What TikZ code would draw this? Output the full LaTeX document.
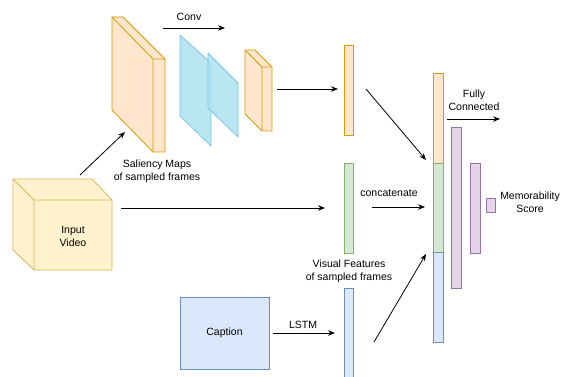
\documentclass[tikz,border=0pt]{standalone}
\usepackage{fontspec}
\setmainfont{Liberation Sans}
\usepackage{tikz}
\usetikzlibrary{arrows.meta, positioning}

\definecolor{orfill}{HTML}{FFE6CC}
\definecolor{ordraw}{HTML}{D79B00}
\definecolor{yefill}{HTML}{FFF2CC}
\definecolor{yedraw}{HTML}{D6B656}
\definecolor{blfill}{HTML}{DAE8FC}
\definecolor{bldraw}{HTML}{6C8EBF}
\definecolor{grfill}{HTML}{D5E8D4}
\definecolor{grdraw}{HTML}{82B366}
\definecolor{pufill}{HTML}{E1D5E7}
\definecolor{pudraw}{HTML}{9673A6}
\definecolor{cyfill}{HTML}{B1E3EE}
\definecolor{cydraw}{HTML}{7EC0F0}

\begin{document}
\begin{tikzpicture}[
    x=1pt, y=-1pt,
    bar/.style={
        rectangle, draw, line width=0.8pt, inner sep=0pt, minimum width=9pt
    },
    lbl/.style={
        font=\fontsize{10.5}{13}\selectfont, align=center, inner sep=0pt
    },
    arr/.style={line width=0.8pt, -{Stealth[length=7pt, width=5.5pt]}},
    cube/.style={line width=0.8pt, line join=round},
]
\useasboundingbox (0,0) rectangle (562,377);

% Input video cube (bottom-left)
\filldraw[cube, fill=yefill, draw=yedraw]
    (13,179) -- (92,179) -- (112,200) -- (112,270) -- (34,270) -- (13,250) -- cycle;
\draw[cube, draw=yedraw] (13,179) -- (34,200) -- (34,270) (34,200) -- (112,200);
\node[lbl] (video) at (73,236) {Input\\Video};

% Saliency maps (big orange block)
\filldraw[cube, fill=orfill, draw=ordraw]
    (112,17) -- (123,17) -- (165,59) -- (165,152) -- (153,152) -- (112,110) -- cycle;
\draw[cube, draw=ordraw] (112,17) -- (153,59) -- (153,152) (153,59) -- (165,59);
\node[lbl] (sallbl) at (157,171) {Saliency Maps\\of sampled frames};

% Conv planes
\filldraw[cube, fill=cyfill, draw=cydraw, fill opacity=0.9]
    (180,35) -- (211,63) -- (211,146) -- (180,116) -- cycle;
\filldraw[cube, fill=cyfill, draw=cydraw, fill opacity=0.9]
    (208,53) -- (238,83) -- (238,137) -- (208,108) -- cycle;
\node[lbl] (convlbl) at (189,17) {Conv};

% Small orange block
\filldraw[cube, fill=orfill, draw=ordraw]
    (245,50) -- (255,50) -- (272,67) -- (272,131) -- (262,131) -- (245,114) -- cycle;
\draw[cube, draw=ordraw] (245,50) -- (262,67) -- (262,131) (262,67) -- (272,67);

% Caption box
\node[draw=bldraw, fill=blfill, line width=0.8pt, minimum width=89pt,
      minimum height=72pt, font=\fontsize{10.5}{13}\selectfont] (caption) at (224.5,333) {Caption};

% Feature vectors
\node[bar, fill=orfill, draw=ordraw, minimum height=90pt] (salfeat) at (348.5,90) {};
\node[bar, fill=grfill, draw=grdraw, minimum height=90pt] (visfeat) at (348.5,208) {};
\node[bar, fill=blfill, draw=bldraw, minimum height=92pt] (capfeat) at (348.5,334) {};
\node[lbl] (vislbl) at (349,271) {Visual Features\\of sampled frames};

% Concatenated vector
\node[bar, fill=orfill, draw=ordraw, minimum width=10pt, minimum height=90pt] (catsal) at (438,118) {};
\node[bar, fill=grfill, draw=grdraw, minimum width=10pt, minimum height=89pt] (catvis) at (438,207.5) {};
\node[bar, fill=blfill, draw=bldraw, minimum width=10pt, minimum height=90pt] (catcap) at (438,297) {};
\node[lbl] (catlbl) at (389,193) {concatenate};

% Fully connected layers
\node[bar, fill=pufill, draw=pudraw, minimum width=10pt, minimum height=161pt] (fc1) at (456,207.5) {};
\node[bar, fill=pufill, draw=pudraw, minimum width=10pt, minimum height=90pt] (fc2) at (475,208) {};
\node[bar, fill=pufill, draw=pudraw, minimum height=14pt] (score) at (490.5,205) {};
\node[lbl] (fclbl) at (474,100) {Fully\\Connected};
\node[lbl] (scorelbl) at (530,202) {Memorability\\Score};
\node[lbl] (lstmlbl) at (303,325) {LSTM};

% Arrow end points
\coordinate (conv-s) at (163,28);
\coordinate (conv-e) at (225,28);
\coordinate (blk-s) at (277,89);
\coordinate (blk-e) at (338,89);
\coordinate (vid-s) at (80,175);
\coordinate (vid-e) at (125,132);
\coordinate (vis-s) at (121,208);
\coordinate (vis-e) at (325,208);
\coordinate (cat-s) at (372,207);
\coordinate (cat-e) at (425,207);
\coordinate (lstm-s) at (273,333);
\coordinate (lstm-e) at (335,333);
\coordinate (top-s) at (366,89);
\coordinate (top-e) at (426,160);
\coordinate (bot-s) at (374,342);
\coordinate (bot-e) at (426,254);
\coordinate (fc-s) at (447,119);
\coordinate (fc-e) at (500,119);

% Arrows
\draw[arr] (conv-s) -- (conv-e);
\draw[arr] (blk-s) -- (blk-e);
\draw[arr] (vid-s) -- (vid-e);
\draw[arr] (vis-s) -- (vis-e);
\draw[arr] (cat-s) -- (cat-e);
\draw[arr] (lstm-s) -- (lstm-e);
\draw[arr] (top-s) -- (top-e);
\draw[arr] (bot-s) -- (bot-e);
\draw[arr] (fc-s) -- (fc-e);

\end{tikzpicture}
\end{document}
